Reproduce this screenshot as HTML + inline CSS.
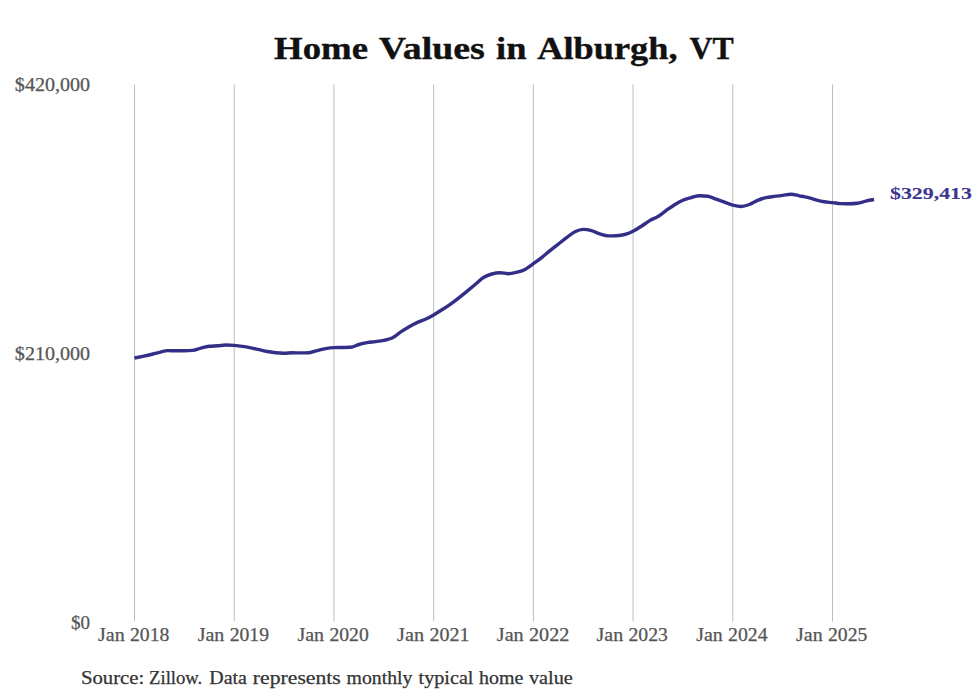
<!DOCTYPE html>
<html><head><meta charset="utf-8"><style>
html,body{margin:0;padding:0;background:#fff;width:980px;height:699px;overflow:hidden}
svg{display:block}
text{font-family:"Liberation Serif",serif}
</style></head><body>
<svg width="980" height="699" viewBox="0 0 980 699">
<rect width="980" height="699" fill="#fff"/>
<g stroke="#bdbdbd" stroke-width="1">
<line x1="134.50" y1="84.5" x2="134.50" y2="621.5" />
<line x1="234.21" y1="84.5" x2="234.21" y2="621.5" />
<line x1="333.93" y1="84.5" x2="333.93" y2="621.5" />
<line x1="433.64" y1="84.5" x2="433.64" y2="621.5" />
<line x1="533.36" y1="84.5" x2="533.36" y2="621.5" />
<line x1="633.07" y1="84.5" x2="633.07" y2="621.5" />
<line x1="732.79" y1="84.5" x2="732.79" y2="621.5" />
<line x1="832.50" y1="84.5" x2="832.50" y2="621.5" />
</g>
<path d="M134.50,358.00 C137.27,357.44 140.04,356.88 142.81,356.30 C145.58,355.72 148.35,355.15 151.12,354.50 C153.89,353.85 156.66,353.05 159.43,352.40 C162.20,351.75 164.97,350.60 167.74,350.60 C170.51,350.60 173.28,350.80 176.05,350.80 C178.82,350.80 181.59,350.80 184.36,350.80 C187.13,350.80 189.90,350.67 192.67,350.40 C195.44,350.13 198.21,348.78 200.98,348.10 C203.75,347.42 206.52,346.63 209.29,346.30 C212.06,345.97 214.83,346.02 217.60,345.80 C220.37,345.58 223.13,345.00 225.90,345.00 C228.67,345.00 231.44,345.17 234.21,345.40 C236.98,345.63 239.75,345.98 242.52,346.40 C245.29,346.82 248.06,347.35 250.83,347.90 C253.60,348.45 256.37,349.10 259.14,349.70 C261.91,350.30 264.68,350.98 267.45,351.50 C270.22,352.02 272.99,352.53 275.76,352.80 C278.53,353.07 281.30,353.20 284.07,353.20 C286.84,353.20 289.61,352.80 292.38,352.80 C295.15,352.80 297.92,352.90 300.69,352.90 C303.46,352.90 306.23,352.83 309.00,352.70 C311.77,352.57 314.54,351.28 317.31,350.60 C320.08,349.92 322.85,349.10 325.62,348.60 C328.39,348.10 331.16,347.67 333.93,347.60 C336.70,347.53 339.47,347.55 342.24,347.50 C345.01,347.45 347.78,347.43 350.55,347.30 C353.32,347.17 356.09,345.28 358.86,344.50 C361.63,343.72 364.40,343.08 367.17,342.60 C369.94,342.12 372.71,341.98 375.48,341.60 C378.25,341.22 381.02,340.90 383.79,340.30 C386.56,339.70 389.33,339.35 392.10,338.00 C394.87,336.65 397.63,334.03 400.40,332.20 C403.17,330.37 405.94,328.60 408.71,327.00 C411.48,325.40 414.25,323.88 417.02,322.60 C419.79,321.32 422.56,320.58 425.33,319.30 C428.10,318.02 430.87,316.48 433.64,314.90 C436.41,313.32 439.18,311.57 441.95,309.80 C444.72,308.03 447.49,306.25 450.26,304.30 C453.03,302.35 455.80,300.25 458.57,298.10 C461.34,295.95 464.11,293.67 466.88,291.40 C469.65,289.13 472.42,286.82 475.19,284.50 C477.96,282.18 480.73,279.25 483.50,277.50 C486.27,275.75 489.04,274.80 491.81,274.00 C494.58,273.20 497.35,272.70 500.12,272.70 C502.89,272.70 505.66,273.70 508.43,273.70 C511.20,273.70 513.97,272.92 516.74,272.20 C519.51,271.48 522.28,270.82 525.05,269.40 C527.82,267.98 530.59,265.67 533.36,263.70 C536.13,261.73 538.90,259.78 541.67,257.60 C544.44,255.42 547.21,252.85 549.98,250.60 C552.75,248.35 555.52,246.27 558.29,244.10 C561.06,241.93 563.83,239.65 566.60,237.60 C569.37,235.55 572.13,233.17 574.90,231.80 C577.67,230.43 580.44,229.40 583.21,229.40 C585.98,229.40 588.75,229.85 591.52,230.60 C594.29,231.35 597.06,233.02 599.83,233.90 C602.60,234.78 605.37,235.90 608.14,235.90 C610.91,235.90 613.68,235.83 616.45,235.70 C619.22,235.57 621.99,235.25 624.76,234.50 C627.53,233.75 630.30,232.57 633.07,231.20 C635.84,229.83 638.61,228.07 641.38,226.30 C644.15,224.53 646.92,222.23 649.69,220.60 C652.46,218.97 655.23,218.20 658.00,216.50 C660.77,214.80 663.54,212.37 666.31,210.40 C669.08,208.43 671.85,206.40 674.62,204.70 C677.39,203.00 680.16,201.38 682.93,200.20 C685.70,199.02 688.47,198.35 691.24,197.60 C694.01,196.85 696.78,195.70 699.55,195.70 C702.32,195.70 705.09,195.90 707.86,196.30 C710.63,196.70 713.40,198.22 716.17,199.20 C718.94,200.18 721.71,201.22 724.48,202.20 C727.25,203.18 730.02,204.38 732.79,205.10 C735.56,205.82 738.33,206.50 741.10,206.50 C743.87,206.50 746.63,205.52 749.40,204.50 C752.17,203.48 754.94,201.55 757.71,200.40 C760.48,199.25 763.25,198.27 766.02,197.60 C768.79,196.93 771.56,196.77 774.33,196.40 C777.10,196.03 779.87,195.75 782.64,195.40 C785.41,195.05 788.18,194.30 790.95,194.30 C793.72,194.30 796.49,195.28 799.26,195.80 C802.03,196.32 804.80,196.72 807.57,197.40 C810.34,198.08 813.11,199.17 815.88,199.90 C818.65,200.63 821.42,201.35 824.19,201.80 C826.96,202.25 829.73,202.30 832.50,202.60 C835.27,202.90 838.04,203.47 840.81,203.60 C843.58,203.73 846.35,203.80 849.12,203.80 C851.89,203.80 854.66,203.63 857.43,203.30 C860.20,202.97 862.97,201.73 865.74,201.10 C868.51,200.47 871.28,199.98 874.05,199.50" fill="none" stroke="#332e88" stroke-width="3.4" stroke-linejoin="round" stroke-linecap="butt"/>
<text x="274.0" y="59" font-size="31" font-weight="bold" fill="#111" stroke="#111" stroke-width="0.35" textLength="94.07" lengthAdjust="spacingAndGlyphs">Home</text>
<text x="378.87" y="59" font-size="31" font-weight="bold" fill="#111" stroke="#111" stroke-width="0.35" textLength="105.99" lengthAdjust="spacingAndGlyphs">Values</text>
<text x="496.02" y="59" font-size="31" font-weight="bold" fill="#111" stroke="#111" stroke-width="0.35" textLength="30.44" lengthAdjust="spacingAndGlyphs">in</text>
<text x="537.17" y="59" font-size="31" font-weight="bold" fill="#111" stroke="#111" stroke-width="0.35" textLength="140.35" lengthAdjust="spacingAndGlyphs">Alburgh,</text>
<text x="689.45" y="59" font-size="31" font-weight="bold" fill="#111" stroke="#111" stroke-width="0.35" textLength="44.23" lengthAdjust="spacingAndGlyphs">VT</text>
<text x="80.96" y="684" font-size="18.2" font-weight="normal" fill="#333" stroke="#333" stroke-width="0.25" textLength="63.32" lengthAdjust="spacingAndGlyphs">Source:</text>
<text x="149.09" y="684" font-size="18.2" font-weight="normal" fill="#333" stroke="#333" stroke-width="0.25" textLength="53.19" lengthAdjust="spacingAndGlyphs">Zillow.</text>
<text x="209.24" y="684" font-size="18.2" font-weight="normal" fill="#333" stroke="#333" stroke-width="0.25" textLength="37.68" lengthAdjust="spacingAndGlyphs">Data</text>
<text x="252.89" y="684" font-size="18.2" font-weight="normal" fill="#333" stroke="#333" stroke-width="0.25" textLength="87.92" lengthAdjust="spacingAndGlyphs">represents</text>
<text x="346.54" y="684" font-size="18.2" font-weight="normal" fill="#333" stroke="#333" stroke-width="0.25" textLength="65.85" lengthAdjust="spacingAndGlyphs">monthly</text>
<text x="418.61" y="684" font-size="18.2" font-weight="normal" fill="#333" stroke="#333" stroke-width="0.25" textLength="54.86" lengthAdjust="spacingAndGlyphs">typical</text>
<text x="479.01" y="684" font-size="18.2" font-weight="normal" fill="#333" stroke="#333" stroke-width="0.25" textLength="44.37" lengthAdjust="spacingAndGlyphs">home</text>
<text x="529.0" y="684" font-size="18.2" font-weight="normal" fill="#333" stroke="#333" stroke-width="0.25" textLength="43.83" lengthAdjust="spacingAndGlyphs">value</text>
<text x="14.88" y="91" font-size="18" font-weight="normal" fill="#555" stroke="#555" stroke-width="0.25" textLength="75.27" lengthAdjust="spacingAndGlyphs">$420,000</text>
<text x="14.88" y="360" font-size="18" font-weight="normal" fill="#555" stroke="#555" stroke-width="0.25" textLength="75.27" lengthAdjust="spacingAndGlyphs">$210,000</text>
<text x="70.94" y="629" font-size="18" font-weight="normal" fill="#555" stroke="#555" stroke-width="0.25" textLength="19.06" lengthAdjust="spacingAndGlyphs">$0</text>
<text x="890.0" y="198.8" font-size="17.5" font-weight="bold" fill="#3b3690" stroke="#3b3690" stroke-width="0.1" textLength="81.88" lengthAdjust="spacingAndGlyphs">$329,413</text>
<text x="98.0" y="640.7" font-size="18" font-weight="normal" fill="#555" stroke="#555" stroke-width="0.25" textLength="26.64" lengthAdjust="spacingAndGlyphs">Jan</text>
<text x="129.97" y="640.7" font-size="18" font-weight="normal" fill="#555" stroke="#555" stroke-width="0.25" textLength="39.33" lengthAdjust="spacingAndGlyphs">2018</text>
<text x="197.71" y="640.7" font-size="18" font-weight="normal" fill="#555" stroke="#555" stroke-width="0.25" textLength="26.64" lengthAdjust="spacingAndGlyphs">Jan</text>
<text x="229.68" y="640.7" font-size="18" font-weight="normal" fill="#555" stroke="#555" stroke-width="0.25" textLength="39.33" lengthAdjust="spacingAndGlyphs">2019</text>
<text x="297.43" y="640.7" font-size="18" font-weight="normal" fill="#555" stroke="#555" stroke-width="0.25" textLength="26.64" lengthAdjust="spacingAndGlyphs">Jan</text>
<text x="329.4" y="640.7" font-size="18" font-weight="normal" fill="#555" stroke="#555" stroke-width="0.25" textLength="39.33" lengthAdjust="spacingAndGlyphs">2020</text>
<text x="397.14" y="640.7" font-size="18" font-weight="normal" fill="#555" stroke="#555" stroke-width="0.25" textLength="27.02" lengthAdjust="spacingAndGlyphs">Jan</text>
<text x="429.56" y="640.7" font-size="18" font-weight="normal" fill="#555" stroke="#555" stroke-width="0.25" textLength="40.0" lengthAdjust="spacingAndGlyphs">2021</text>
<text x="496.86" y="640.7" font-size="18" font-weight="normal" fill="#555" stroke="#555" stroke-width="0.25" textLength="26.83" lengthAdjust="spacingAndGlyphs">Jan</text>
<text x="529.03" y="640.7" font-size="18" font-weight="normal" fill="#555" stroke="#555" stroke-width="0.25" textLength="40.25" lengthAdjust="spacingAndGlyphs">2022</text>
<text x="596.57" y="640.7" font-size="18" font-weight="normal" fill="#555" stroke="#555" stroke-width="0.25" textLength="26.64" lengthAdjust="spacingAndGlyphs">Jan</text>
<text x="628.54" y="640.7" font-size="18" font-weight="normal" fill="#555" stroke="#555" stroke-width="0.25" textLength="39.33" lengthAdjust="spacingAndGlyphs">2023</text>
<text x="696.29" y="640.7" font-size="18" font-weight="normal" fill="#555" stroke="#555" stroke-width="0.25" textLength="26.46" lengthAdjust="spacingAndGlyphs">Jan</text>
<text x="728.02" y="640.7" font-size="18" font-weight="normal" fill="#555" stroke="#555" stroke-width="0.25" textLength="39.57" lengthAdjust="spacingAndGlyphs">2024</text>
<text x="796.0" y="640.7" font-size="18" font-weight="normal" fill="#555" stroke="#555" stroke-width="0.25" textLength="26.64" lengthAdjust="spacingAndGlyphs">Jan</text>
<text x="827.97" y="640.7" font-size="18" font-weight="normal" fill="#555" stroke="#555" stroke-width="0.25" textLength="39.33" lengthAdjust="spacingAndGlyphs">2025</text>
</svg>
</body></html>
